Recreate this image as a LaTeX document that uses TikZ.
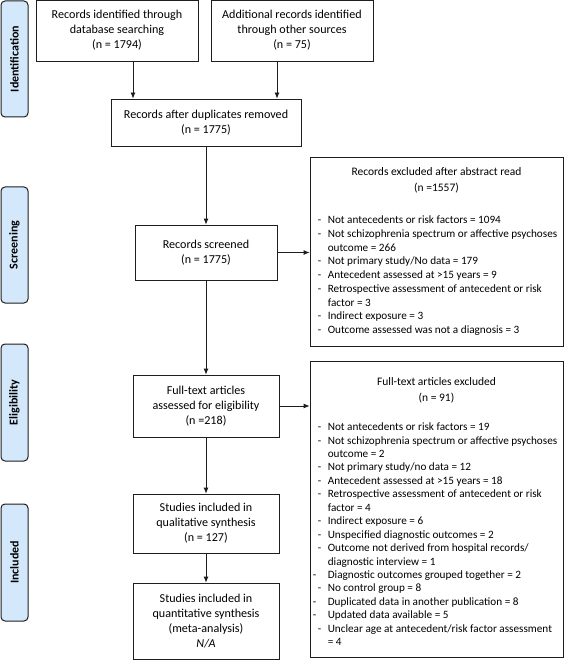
\documentclass[tikz,border=0pt]{standalone}
\usepackage{fontspec}
\setmainfont{Carlito}
\usetikzlibrary{arrows.meta,calc}
\definecolor{sideblue}{RGB}{212,232,252}
\definecolor{edge}{RGB}{30,30,30}
\newcommand{\li}[1]{\makebox[10pt][l]{-}#1}
\newcommand{\lj}[1]{\hspace*{-5pt}\makebox[15pt][l]{-}#1}
\newcommand{\lc}[1]{\hspace*{10pt}#1}
\begin{document}
\begin{tikzpicture}[x=1pt,y=-1pt,
  box/.style={draw=edge,line width=0.8pt,fill=white,align=center,inner sep=2pt,
    font=\fontsize{12.1}{15}\selectfont},
  rbox/.style={draw=edge,line width=0.8pt,fill=white,inner sep=0pt},
  side/.style={draw=edge,line width=1pt,fill=sideblue,rounded corners=4pt,
    minimum width=27pt,inner sep=0pt},
  sidetext/.style={rotate=90,font=\fontsize{12}{14}\selectfont\bfseries},
  listtext/.style={align=left,inner sep=0pt},
  titletext/.style={align=center,inner sep=0pt,font=\fontsize{11.5}{15.5}\selectfont},
  arr/.style={-{Latex[length=6pt,width=5pt]},line width=0.8pt,draw=edge}]
\useasboundingbox (0,0) rectangle (567,660);
\fill[white] (0,0) rectangle (567,660);
% side labels
\node[side,minimum height=116pt] (sid) at (14.5,59) {};
\node[sidetext] (sidt) at (sid.center) {Identification};
\node[side,minimum height=116pt] (sscr) at (14.5,245) {};
\node[sidetext] (sscrt) at (sscr.center) {Screening};
\node[side,minimum height=117pt] (self) at (14.5,402.5) {};
\node[sidetext] (selt) at (self.center) {Eligibility};
\node[side,minimum height=117pt] (sinc) at (14.5,562.5) {};
\node[sidetext] (sinct) at (sinc.center) {Included};
% main boxes
\node[box,minimum width=162pt,minimum height=61pt] (b1) at (117,30.5)
  {Records identified through\\database searching\\(n = 1794)};
\node[box,minimum width=162pt,minimum height=61pt] (b2) at (292,30.5)
  {Additional records identified\\through other sources\\(n = 75)};
\node[box,minimum width=190pt,minimum height=47pt] (dup) at (206,122.5)
  {Records after duplicates removed\\(n = 1775)};
\node[box,minimum width=142pt,minimum height=55pt] (scr) at (206,252.5)
  {Records screened\\(n = 1775)};
\node[box,minimum width=146pt,minimum height=62pt] (ft) at (206,406)
  {Full-text articles\\assessed for eligibility\\(n =218)};
\node[box,minimum width=146pt,minimum height=59pt] (qual) at (206,523.5)
  {Studies included in\\qualitative synthesis\\(n = 127)};
\node[box,minimum width=146pt,minimum height=76pt] (quant) at (206,621)
  {Studies included in\\quantitative synthesis\\(meta-analysis)\\\textit{N/A}};
% right boxes
\node[rbox,minimum width=253pt,minimum height=189pt] (ex1) at (436.5,251.5) {};
\node[titletext,anchor=north] (ex1t) at ([yshift=-11pt]ex1.north)
  {Records excluded after abstract read\\(n =1557)};
\node[listtext,anchor=north west,font=\fontsize{11.2}{13.75}\selectfont] (ex1l)
  at ([xshift=8pt,yshift=-59pt]ex1.north west)
  {\li{Not antecedents or risk factors = 1094}\\
   \li{Not schizophrenia spectrum or affective psychoses}\\
   \lc{outcome = 266}\\
   \li{Not primary study/No data = 179}\\
   \li{Antecedent assessed at >15 years = 9}\\
   \li{Retrospective assessment of antecedent or risk}\\
   \lc{factor = 3}\\
   \li{Indirect exposure = 3}\\
   \li{Outcome assessed was not a diagnosis = 3}};
\node[rbox,minimum width=253pt,minimum height=296pt] (ex2) at (436.5,509) {};
\node[titletext,anchor=north] (ex2t) at ([yshift=-17pt]ex2.north)
  {Full-text articles excluded\\(n = 91)};
\node[listtext,anchor=north west,font=\fontsize{11.2}{13.45}\selectfont] (ex2l)
  at ([xshift=8pt,yshift=-62pt]ex2.north west)
  {\li{Not antecedents or risk factors = 19}\\
   \li{Not schizophrenia spectrum or affective psychoses}\\
   \lc{outcome = 2}\\
   \li{Not primary study/no data = 12}\\
   \li{Antecedent assessed at >15 years = 18}\\
   \li{Retrospective assessment of antecedent or risk}\\
   \lc{factor = 4}\\
   \li{Indirect exposure = 6}\\
   \li{Unspecified diagnostic outcomes = 2}\\
   \li{Outcome not derived from hospital records/}\\
   \lc{diagnostic interview = 1}\\
   \lj{Diagnostic outcomes grouped together = 2}\\
   \li{No control group = 8}\\
   \lj{Duplicated data in another publication = 8}\\
   \lj{Updated data available = 5}\\
   \li{Unclear age at antecedent/risk factor assessment}\\
   \lc{= 4}};
% arrows
\draw[arr] ([xshift=16pt]b1.south) -- ([xshift=16pt]b1.south |- dup.north);
\draw[arr] ([xshift=-15pt]b2.south) -- ([xshift=-15pt]b2.south |- dup.north);
\draw[arr] (dup.south) -- (scr.north);
\draw[arr] (scr.east) -- (scr.east -| ex1.west);
\draw[arr] (scr.south) -- (ft.north);
\draw[arr] (ft.east) -- (ft.east -| ex2.west);
\draw[arr] (ft.south) -- (qual.north);
\draw[arr] (qual.south) -- (quant.north);
\end{tikzpicture}
\end{document}
